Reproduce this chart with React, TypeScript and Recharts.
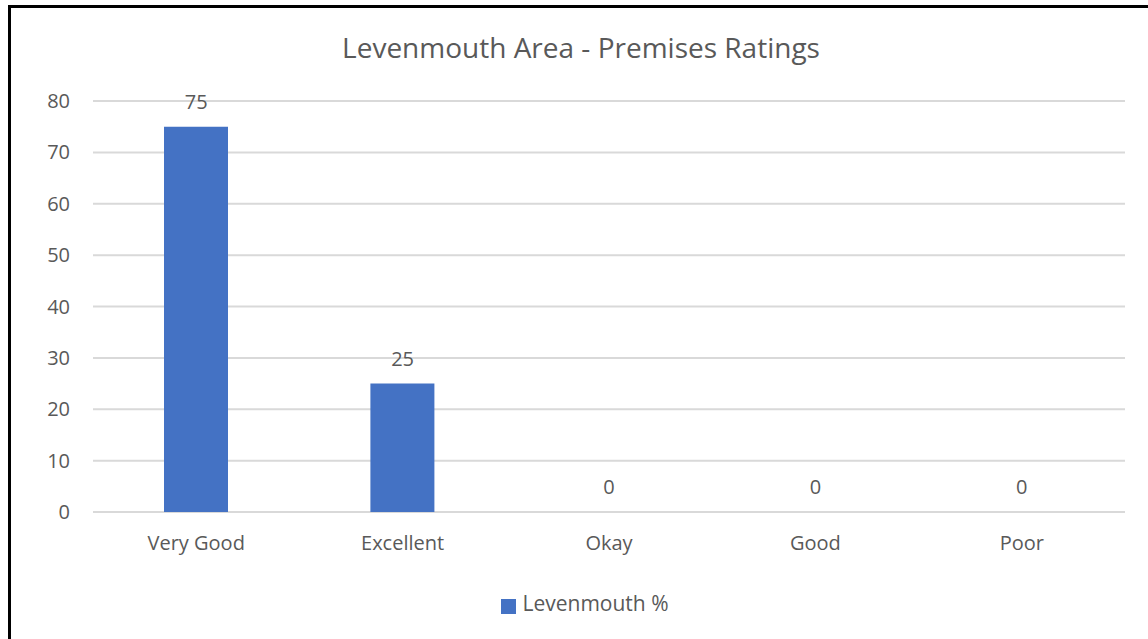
import React from 'react';
import { ComposedChart, Bar, Line, XAxis, YAxis, CartesianGrid, Legend, LabelList } from 'recharts';

const categories: string[] = ['Very Good', 'Excellent', 'Okay', 'Good', 'Poor'];
const levenmouthPct: number[] = [75, 25, 0, 0, 0];
const yTicks: number[] = [0, 10, 20, 30, 40, 50, 60, 70, 80];

const data = categories.map((name, i) => ({ name, value: levenmouthPct[i] }));

const FONT = '"Open Sans", "Segoe UI", sans-serif';
const GREY = '#595959';
const FS = 20;

export default function App() {
  return (
    <div style={{ position: 'fixed', left: 0, top: 0, width: 1148, height: 639, overflow: 'hidden', background: '#fff', fontFamily: FONT }}>
      <div style={{ position: 'absolute', left: 8, top: 5, width: 1160, height: 660, border: '3px solid #000', boxSizing: 'border-box' }} />
      <div style={{ position: 'absolute', left: 0, top: 28, width: 1162, textAlign: 'center', fontSize: 28, color: GREY }}>
        Levenmouth Area - Premises Ratings
      </div>
      <div style={{ position: 'absolute', left: 0, top: 0 }}>
        <ComposedChart width={1148} height={639} data={data} margin={{ top: 101, right: 23, left: 0, bottom: 69 }}>
          <CartesianGrid horizontal vertical={false} stroke="#d9d9d9" strokeWidth={2} />
          <XAxis
            dataKey="name"
            axisLine={false}
            tickLine={false}
            tickSize={0}
            tickMargin={24}
            tick={{ fill: GREY, fontSize: FS, fontFamily: FONT }}
            interval={0}
          />
          <YAxis
            width={93}
            domain={[0, 80]}
            ticks={yTicks}
            axisLine={false}
            tickLine={false}
            tickSize={0}
            tickMargin={23}
            tick={{ fill: GREY, fontSize: FS, fontFamily: FONT }}
          />
          <Legend
            iconType="square"
            iconSize={15}
            formatter={(v: string) => <span style={{ color: GREY, fontSize: 21, fontFamily: FONT, marginLeft: 2 }}>{v}</span>}
            wrapperStyle={{ top: 589, left: 0, width: 1180 }}
          />
          <Bar dataKey="value" name="Levenmouth %" fill="#4472c4" barSize={64} isAnimationActive={false} />
          <Line dataKey="value" stroke="none" dot={false} activeDot={false} legendType="none" isAnimationActive={false}>
            <LabelList dataKey="value" position="top" offset={18} style={{ fill: GREY, fontSize: FS, fontFamily: FONT }} />
          </Line>
        </ComposedChart>
      </div>
    </div>
  );
}
